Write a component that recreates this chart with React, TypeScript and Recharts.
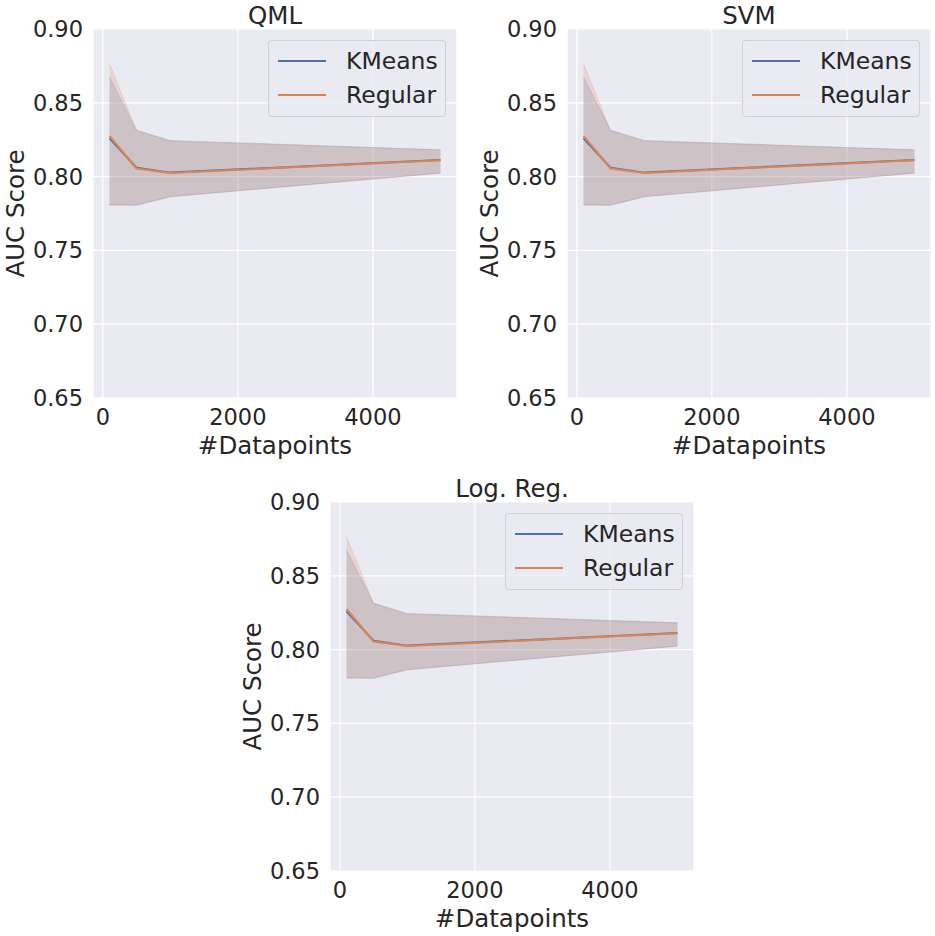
import { ComposedChart, Area, Line, XAxis, YAxis, CartesianGrid, Legend } from "recharts";

const SIZES = [100, 500, 1000, 5000];
const KMEANS_MEAN = [0.826, 0.806, 0.8027, 0.8113];
const KMEANS_LOW = [0.781, 0.7805, 0.7863, 0.8023];
const KMEANS_HIGH = [0.8675, 0.8315, 0.8245, 0.8182];
const REGULAR_MEAN = [0.8275, 0.8055, 0.8025, 0.811];
const REGULAR_LOW = [0.7805, 0.781, 0.7865, 0.8025];
const REGULAR_HIGH = [0.8765, 0.831, 0.824, 0.818];
const SERIES = ["KMeans", "Regular"];
const TITLES = ["QML", "SVM", "Log. Reg."];
const X_TICKS = [0, 2000, 4000];
const Y_TICKS = [0.65, 0.7, 0.75, 0.8, 0.85, 0.9];

const COLORS = ["#4C72B0", "#DD8452"];
const FONT = "'DejaVu Sans', sans-serif";
const INK = "#262626";

const data = SIZES.map((n, i) => ({
  n,
  km: KMEANS_MEAN[i],
  kmBand: [KMEANS_LOW[i], KMEANS_HIGH[i]],
  reg: REGULAR_MEAN[i],
  regBand: [REGULAR_LOW[i], REGULAR_HIGH[i]],
}));

const W = 467;
const H = 467;

const renderLegend = () => (
  <div
    style={{
      width: 178,
      height: 77,
      boxSizing: "border-box",
      border: "1px solid rgba(204,204,204,0.8)",
      borderRadius: 4,
      background: "rgba(234,234,242,0.8)",
      position: "relative",
      fontFamily: FONT,
      fontSize: 23.5,
      color: INK,
    }}
  >
    {SERIES.map((name, i) => (
      <div key={name}>
        <div
          style={{
            position: "absolute",
            left: 9,
            top: 19 + i * 34,
            width: 48,
            height: 2,
            background: COLORS[i],
          }}
        />
        <div
          style={{
            position: "absolute",
            left: 77,
            top: 20 + i * 34 - 15,
            lineHeight: "30px",
            whiteSpace: "nowrap",
          }}
        >
          {name}
        </div>
      </div>
    ))}
  </div>
);

const Panel = ({ title, left, top }: { title: string; left: number; top: number }) => {
  const plotLeft = 93;
  const plotRight = W - 10;
  return (
    <div style={{ position: "absolute", left, top, width: W, height: H }}>
      <ComposedChart width={W} height={H} data={data} margin={{ top: 29, right: 10, bottom: 0, left: 0 }}>
        <CartesianGrid fill="#EAEAF2" stroke="#ffffff" strokeWidth={1.2} />
        <XAxis
          dataKey="n"
          type="number"
          domain={[-145, 5245]}
          ticks={X_TICKS}
          allowDataOverflow
          axisLine={false}
          tickLine={false}
          tickSize={0}
          tickMargin={11}
          height={69}
          tick={{ fill: INK, fontSize: 22.5, fontFamily: FONT }}
          label={{ value: "#Datapoints", position: "insideBottom", offset: 13, fill: INK, fontSize: 24.5, fontFamily: FONT }}
        />
        <YAxis
          type="number"
          domain={[0.65, 0.9]}
          ticks={Y_TICKS}
          allowDataOverflow
          axisLine={false}
          tickLine={false}
          tickSize={0}
          tickMargin={10}
          width={93}
          tickFormatter={(v: number) => v.toFixed(2)}
          tick={{ fill: INK, fontSize: 22.5, fontFamily: FONT }}
          label={{
            value: "AUC Score",
            angle: -90,
            position: "insideLeft",
            offset: 15,
            fill: INK,
            fontSize: 24.5,
            fontFamily: FONT,
            style: { textAnchor: "middle" },
          }}
        />
        <Area
          dataKey="kmBand"
          type="linear"
          fill={COLORS[0]}
          fillOpacity={0.2}
          stroke={COLORS[0]}
          strokeOpacity={0.2}
          isAnimationActive={false}
          legendType="none"
        />
        <Line dataKey="km" name={SERIES[0]} type="linear" stroke={COLORS[0]} strokeWidth={2} dot={false} isAnimationActive={false} />
        <Area
          dataKey="regBand"
          type="linear"
          fill={COLORS[1]}
          fillOpacity={0.2}
          stroke={COLORS[1]}
          strokeOpacity={0.2}
          isAnimationActive={false}
          legendType="none"
        />
        <Line dataKey="reg" name={SERIES[1]} type="linear" stroke={COLORS[1]} strokeWidth={2} dot={false} isAnimationActive={false} />
        <Legend
          layout="vertical"
          align="center"
          verticalAlign="middle"
          content={renderLegend}
          wrapperStyle={{ left: plotRight - 11 - 178, top: 40, width: 178, height: 77 }}
        />
        <text
          x={(plotLeft + plotRight) / 2}
          y={24}
          textAnchor="middle"
          fill={INK}
          fontSize={24.5}
          fontFamily={FONT}
        >
          {title}
        </text>
      </ComposedChart>
    </div>
  );
};

export default function App() {
  return (
    <div style={{ position: "absolute", left: 0, top: 0, width: 935, height: 936, background: "#ffffff" }}>
      <Panel title={TITLES[0]} left={0} top={0} />
      <Panel title={TITLES[1]} left={474} top={0} />
      <Panel title={TITLES[2]} left={237} top={473} />
    </div>
  );
}
